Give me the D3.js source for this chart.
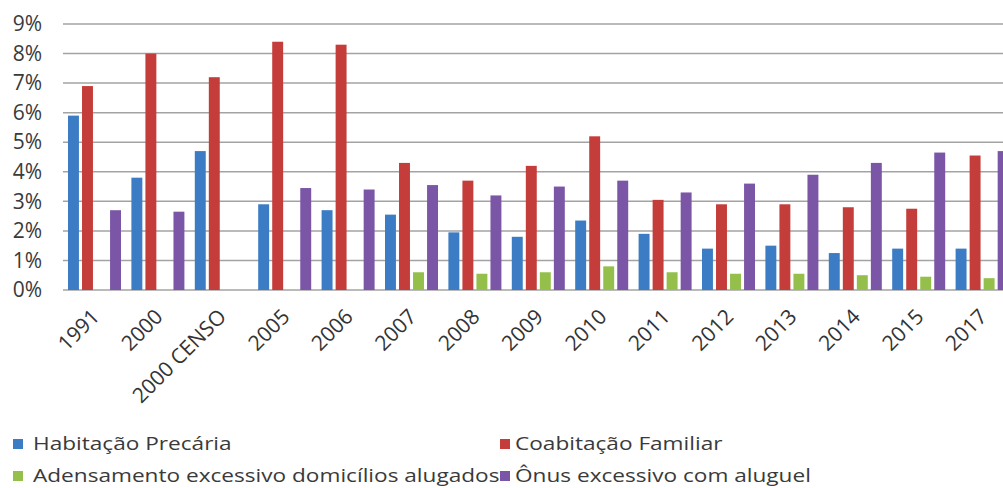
<!DOCTYPE html>
<html>
<head>
<meta charset="utf-8">
<script src="https://cdn.jsdelivr.net/npm/d3@7"></script>
<style>
  body { margin: 0; background: #fff; }
  svg { display: block; font-family: 'Open Sans', sans-serif; }
</style>
</head>
<body>
<div id="chart"></div>
<script>
const categories = ['1991', '2000', '2000 CENSO', '2005', '2006', '2007', '2008', '2009', '2010', '2011', '2012', '2013', '2014', '2015', '2017'];
const seriesNames = ['Habitação Precária', 'Coabitação Familiar', 'Adensamento excessivo domicílios alugados', 'Ônus excessivo com aluguel'];
const habitacao = [5.9, 3.8, 4.7, 2.9, 2.7, 2.55, 1.95, 1.8, 2.35, 1.9, 1.4, 1.5, 1.25, 1.4, 1.4];
const coabitacao = [6.9, 8.0, 7.2, 8.4, 8.3, 4.3, 3.7, 4.2, 5.2, 3.05, 2.9, 2.9, 2.8, 2.75, 4.55];
const adensamento = [null, null, null, null, null, 0.6, 0.55, 0.6, 0.8, 0.6, 0.55, 0.55, 0.5, 0.45, 0.4];
const onus = [2.7, 2.65, null, 3.45, 3.4, 3.55, 3.2, 3.5, 3.7, 3.3, 3.6, 3.9, 4.3, 4.65, 4.7];
const yTicks = [0, 1, 2, 3, 4, 5, 6, 7, 8, 9];
const colors = ['#3b7cc4', '#c43d3a', '#93bf4a', '#7b56a6'];

const w = 1003;
const h = 488;
const values = [habitacao, coabitacao, adensamento, onus];

const svg = d3.select('#chart')
  .append('svg')
  .attr('width', w)
  .attr('height', h);

// plot runs a bit past the right edge, like the cropped original
const x0 = d3.scaleBand()
  .domain(categories)
  .range([63, 1014]);
const x1 = d3.scaleBand()
  .domain(seriesNames)
  .range([5, 58])
  .paddingInner(0.22);
const y = d3.scaleLinear()
  .domain([0, 9])
  .range([290, 24]);

// gridlines
svg.append('g')
  .selectAll('line')
  .data(yTicks)
  .enter()
  .append('line')
  .attr('x1', 63)
  .attr('x2', w)
  .attr('y1', d => y(d))
  .attr('y2', d => y(d))
  .attr('stroke', '#a3a3a3')
  .attr('stroke-width', 1.5);

// bars
const groups = svg.append('g')
  .selectAll('g')
  .data(categories)
  .enter()
  .append('g')
  .attr('transform', d => 'translate(' + x0(d) + ',0)');

groups.selectAll('rect')
  .data((d, i) => seriesNames.map((s, j) => ({ series: s, idx: j, value: values[j][i] })).filter(e => e.value != null))
  .enter()
  .append('rect')
  .attr('x', d => x1(d.series))
  .attr('width', x1.bandwidth())
  .attr('y', d => y(d.value))
  .attr('height', d => y(0) - y(d.value))
  .attr('fill', d => colors[d.idx]);

// y axis
const yAxis = d3.axisLeft(y)
  .tickValues(yTicks)
  .tickSize(0)
  .tickPadding(21)
  .tickFormat(d => d + '%');
const yG = svg.append('g')
  .attr('transform', 'translate(63,0)')
  .call(yAxis);
yG.select('.domain').remove();
yG.selectAll('text')
  .attr('font-family', 'Open Sans, sans-serif')
  .attr('font-size', 21)
  .attr('fill', '#3a3a3a');

// x axis
const xAxis = d3.axisBottom(x0).tickSize(0);
const xG = svg.append('g')
  .attr('transform', 'translate(0,290)')
  .call(xAxis);
xG.select('.domain').remove();
xG.selectAll('text')
  .attr('font-family', 'Open Sans, sans-serif')
  .attr('font-size', 21)
  .attr('fill', '#333')
  .attr('y', 0)
  .attr('dy', 0)
  .attr('text-anchor', 'end')
  .attr('transform', 'translate(6,28) rotate(-45)');

// legend
const legendPos = [[13, 439, 20], [500, 439, 15], [13, 471, 20], [500, 471, 15]];
const legend = svg.append('g')
  .selectAll('g')
  .data(seriesNames)
  .enter()
  .append('g')
  .attr('transform', (d, i) => 'translate(' + legendPos[i][0] + ',' + legendPos[i][1] + ')');
legend.append('rect')
  .attr('width', 10)
  .attr('height', 10)
  .attr('fill', (d, i) => colors[i]);
legend.append('text')
  .attr('transform', (d, i) => 'translate(' + legendPos[i][2] + ',11) scale(1.19,1)')
  .attr('font-size', 19)
  .attr('fill', '#3a3a3a')
  .text(d => d);
</script>
</body>
</html>
